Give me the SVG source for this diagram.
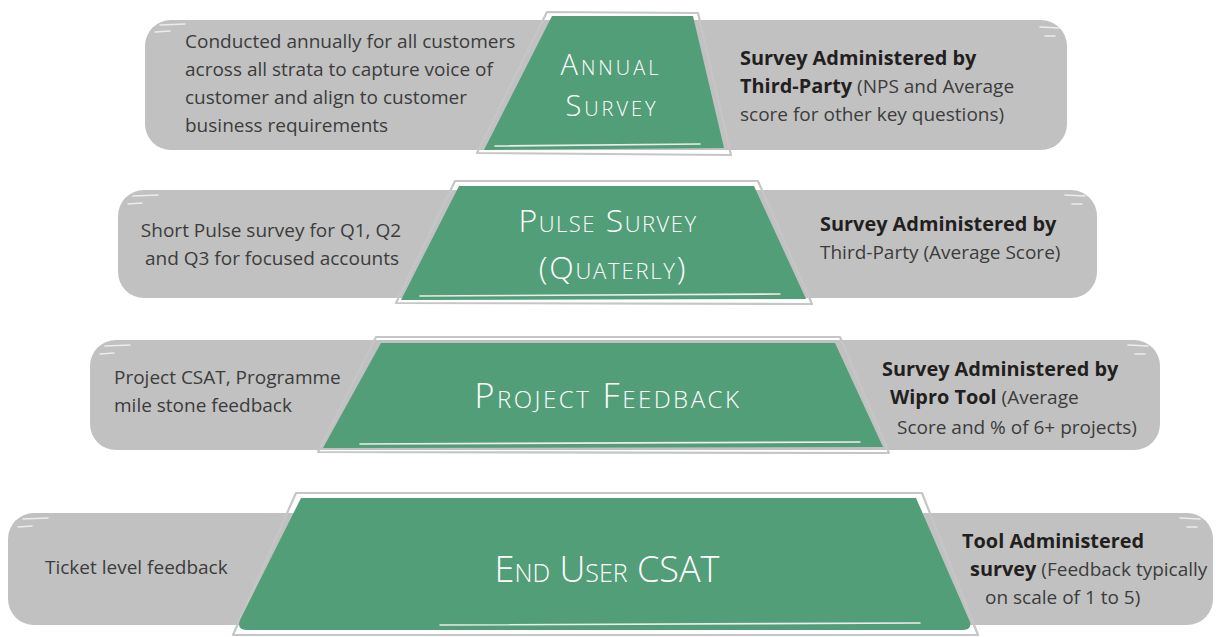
<svg xmlns="http://www.w3.org/2000/svg" width="1216" height="637" viewBox="0 0 1216 637">
<style>
.bar{fill:#c1c1c1}
.trap{fill:#529e78}
.sk{fill:none;stroke:#c6c6c6;stroke-width:2.2;stroke-linejoin:round}
.hl{fill:none;stroke:#ececec;stroke-width:1.6;stroke-linecap:round}
.t{font-family:"Open Sans","Noto Sans",sans-serif;font-size:19px;fill:#3c3c3c}
.b{font-weight:bold;fill:#231f20;font-size:19.9px}
.title{font-family:"Open Sans","Noto Sans",sans-serif;font-variant:small-caps;fill:#ffffff;text-anchor:middle;font-weight:300}
</style>
<rect width="1216" height="637" fill="#ffffff"/>

<g id="annual">
<rect class="bar" x="145" y="20" width="922" height="130" rx="26"/>
<path class="hl" d="M160 25 L185 24 M155 32 L170 31 M1040 27 L1060 28 M1045 36 L1055 36"/>
<polygon class="sk" points="547,12 698,13 731,155 477,153"/>
<polygon class="trap" points="552,16 693,16 724,148 484,150"/>
<path class="hl" d="M495 146 L700 144"/>
<text class="title" x="611" y="75" font-size="29" letter-spacing="3">Annual</text>
<text class="title" x="612" y="116" font-size="29" letter-spacing="3">Survey</text>
<text class="t" x="185" y="48">Conducted annually for all customers</text>
<text class="t" x="185" y="76">across all strata to capture voice of</text>
<text class="t" x="185" y="104">customer and align to customer</text>
<text class="t" x="185" y="132">business requirements</text>
<text class="t" x="740" y="65"><tspan class="b">Survey Administered by</tspan></text>
<text class="t" x="740" y="93"><tspan class="b">Third-Party</tspan> (NPS and Average</text>
<text class="t" x="740" y="121">score for other key questions)</text>
</g>

<g id="pulse">
<rect class="bar" x="118" y="190" width="979" height="108" rx="26"/>
<path class="hl" d="M133 196 L158 195 M128 204 L142 203 M1065 195 L1085 196 M1072 204 L1082 204"/>
<polygon class="sk" points="455,181 758,181 812,304 396,303"/>
<polygon class="trap" points="459,186 754,186 806,299 401,300"/>
<path class="hl" d="M420 296 L780 294"/>
<text class="title" x="608" y="232" font-size="32" letter-spacing="1.5">Pulse Survey</text>
<text class="title" x="613" y="279" font-size="32" letter-spacing="1.8">(Quaterly)</text>
<text class="t" x="271" y="237" text-anchor="middle">Short Pulse survey for Q1, Q2</text>
<text class="t" x="272" y="265" text-anchor="middle">and Q3 for focused accounts</text>
<text class="t" x="820" y="231"><tspan class="b">Survey Administered by</tspan></text>
<text class="t" x="820" y="259">Third-Party (Average Score)</text>
</g>

<g id="project">
<rect class="bar" x="90" y="340" width="1070" height="110" rx="26"/>
<path class="hl" d="M105 346 L130 345 M100 354 L114 353 M1128 345 L1148 346 M1135 354 L1145 354"/>
<polygon class="sk" points="376,337 840,337 889,453 318,452"/>
<polygon class="trap" points="381,343 835,343 883,447 323,448"/>
<path class="hl" d="M360 444 L860 442"/>
<text class="title" x="608" y="408" font-size="34" letter-spacing="2.5">Project Feedback</text>
<text class="t" x="114" y="384">Project CSAT, Programme</text>
<text class="t" x="114" y="412">mile stone feedback</text>
<text class="t" x="882" y="376"><tspan class="b">Survey Administered by</tspan></text>
<text class="t" x="890" y="404"><tspan class="b">Wipro Tool</tspan> (Average</text>
<text class="t" x="897" y="434">Score and % of 6+ projects)</text>
</g>

<g id="enduser">
<rect class="bar" x="8" y="513" width="1205" height="112" rx="26"/>
<path class="hl" d="M23 519 L48 518 M18 527 L32 526 M1180 518 L1200 519 M1187 527 L1197 527"/>
<polygon class="sk" points="296,493 922,493 978,635 233,635"/>
<path class="trap" d="M301 498 L916 498 L970 622 Q972 630 962 630 L248 630 Q236 630 240 620 Z"/>
<path class="hl" d="M440 625 L920 623"/>
<text class="title" x="607" y="582" font-size="36">End User CSAT</text>
<text class="t" x="45" y="574">Ticket level feedback</text>
<text class="t" x="962" y="548"><tspan class="b">Tool Administered</tspan></text>
<text class="t" x="970" y="576"><tspan class="b">survey</tspan> (Feedback typically</text>
<text class="t" x="985" y="604">on scale of 1 to 5)</text>
</g>
</svg>
